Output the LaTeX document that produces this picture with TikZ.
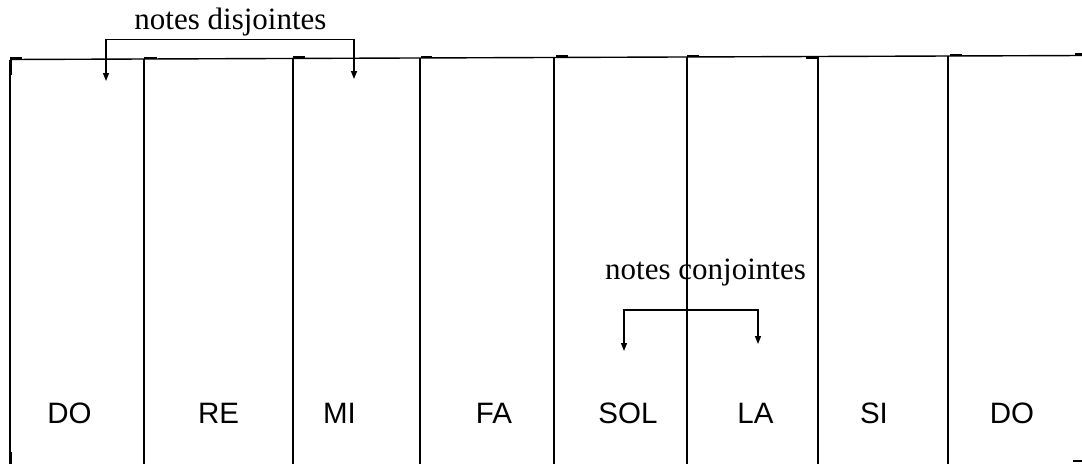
\documentclass[tikz,border=0pt]{standalone}
\usepackage{fontspec}
\setmainfont{Liberation Serif}
\newfontfamily\keyfont{Liberation Sans}
\usetikzlibrary{arrows.meta}
\begin{document}
\begin{tikzpicture}[x=1pt,y=-1pt,
  keyline/.style={line width=1.8pt},
  tab/.style={line width=2.6pt},
  brk/.style={line width=1.4pt, {Triangle[length=8pt,width=6pt]}-{Triangle[length=8pt,width=6pt]}},
  keyname/.style={font=\keyfont\fontsize{29.5}{34}\selectfont, anchor=base, inner sep=0pt},
  notename/.style={font=\fontsize{31}{36}\selectfont, anchor=base, inner sep=0pt}]
\useasboundingbox (0,0) rectangle (1082,464);
% top edge of the keys
\coordinate (kt0) at (10,59.5);
\coordinate (kt1) at (144,59);
\coordinate (kt2) at (293,58.4);
\coordinate (kt3) at (420,58);
\coordinate (kt4) at (554,57.5);
\coordinate (kt5) at (687,57);
\coordinate (kt6) at (818,56.5);
\coordinate (kt7) at (948,56);
\coordinate (kt8) at (1082,55.5);
\draw[line width=1.4pt] (kt0) -- (kt8);
\draw[keyline] (kt0) -- (10,464);
\draw[keyline] (kt1) -- (144,464);
\draw[keyline] (kt2) -- (293,464);
\draw[keyline] (kt3) -- (420,464);
\draw[keyline] (kt4) -- (554,464);
\draw[keyline] (kt5) -- (687,464);
\draw[keyline] (kt6) -- (818,464);
\draw[keyline] (kt7) -- (948,464);
% small tabs
\draw[tab] (10,58.5) -- (22,58.5);
\draw[tab] (11,58.5) -- (11,75);
\draw[tab] (144,58) -- (157,58);
\draw[tab] (293,57.4) -- (305,57.4);
\draw[tab] (421,56.8) -- (432,56.8);
\draw[tab] (556,56.4) -- (568,56.4);
\draw[tab] (687,55.9) -- (699,55.9);
\draw[tab] (806,57.6) -- (818,57.6);
\draw[tab] (950,55) -- (962,55);
\draw[tab] (1075,54.5) -- (1082,54.5);
\draw[tab] (11,452) -- (11,464);
\draw[tab] (1073,461) -- (1082,461);
% key names
\node[keyname] (do1) at (69.5,423) {DO};
\node[keyname] (re) at (218.5,423) {RE};
\node[keyname] (mi) at (339.5,423) {MI};
\node[keyname] (fa) at (494,423) {FA};
\node[keyname] (sol) at (628,423) {SOL};
\node[keyname] (la) at (755.5,423) {LA};
\node[keyname] (si) at (874,423) {SI};
\node[keyname] (do2) at (1012,423) {DO};
% notes disjointes
\node[notename] (disj) at (230.5,29) {notes disjointes};
\coordinate (disjbar) at (230,39.5);
\coordinate (disjl) at (106,81);
\coordinate (disjr) at (354,79);
\draw[brk] (disjl) |- (disjbar) -| (disjr);
% notes conjointes
\node[notename] (conj) at (705.5,279) {notes conjointes};
\coordinate (conjbar) at (690,310);
\coordinate (conjl) at (624,351);
\coordinate (conjr) at (758,344);
\draw[brk] (conjl) |- (conjbar) -| (conjr);
\end{tikzpicture}
\end{document}
